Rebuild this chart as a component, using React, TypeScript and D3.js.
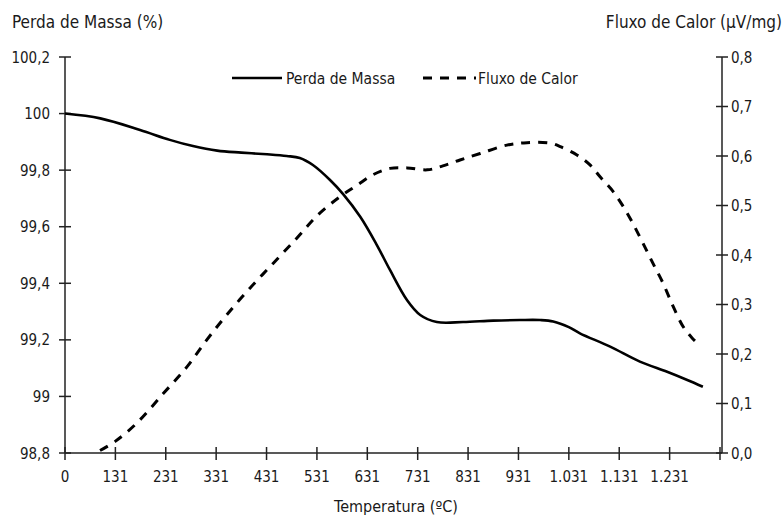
import React from "react";
import * as d3 from "d3";

const xTickPositions = [0, 100, 200, 300, 400, 500, 600, 700, 800, 900, 1000, 1100, 1200, 1300];
const xTickLabels = ["0", "131", "231", "331", "431", "531", "631", "731", "831", "931", "1.031", "1.131", "1.231", ""];
const leftTicks = [98.8, 99, 99.2, 99.4, 99.6, 99.8, 100, 100.2];
const rightTicks = [0, 0.1, 0.2, 0.3, 0.4, 0.5, 0.6, 0.7, 0.8];

const massX = [0, 70, 149, 208, 254, 302, 350, 401, 440, 466, 492, 526, 552, 586, 619, 645, 679, 705, 738, 790, 850, 903, 943, 969, 1000, 1022, 1082, 1141, 1195, 1235, 1266];
const massY = [100.0, 99.983, 99.942, 99.907, 99.885, 99.869, 99.862, 99.856, 99.85, 99.843, 99.818, 99.765, 99.715, 99.635, 99.535, 99.447, 99.34, 99.288, 99.263, 99.263, 99.268, 99.27, 99.27, 99.265, 99.245, 99.223, 99.176, 99.123, 99.087, 99.058, 99.034];

const heatX = [69.5, 99, 142, 195, 242, 281, 321, 367, 413, 460, 502, 546, 580, 611, 645, 679, 719, 750, 784, 824, 877, 917, 963, 983, 1016, 1042, 1062, 1088, 1108, 1127, 1147, 1167, 1187, 1207, 1227, 1245, 1260];
const heatY = [0.005, 0.023, 0.06, 0.12, 0.174, 0.228, 0.279, 0.333, 0.383, 0.434, 0.481, 0.518, 0.541, 0.562, 0.575, 0.576, 0.572, 0.58, 0.592, 0.605, 0.622, 0.627, 0.626, 0.619, 0.602, 0.582, 0.558, 0.528, 0.498, 0.464, 0.424, 0.383, 0.343, 0.296, 0.255, 0.232, 0.218];

const W = 783;
const H = 517;
const FONT = "Tahoma, 'DejaVu Sans Condensed', 'DejaVu Sans', sans-serif";

export default function App() {
  const x = d3.scaleLinear().domain([0, 1300]).range([65, 720]);
  const yL = d3.scaleLinear().domain([98.8, 100.2]).range([453, 57]);
  const yR = d3.scaleLinear().domain([0, 0.8]).range([453, 57]);
  const fmtL = (v: number) => d3.format(".1~f")(v).replace(".", ",");
  const fmtR = (v: number) => d3.format(".1f")(v).replace(".", ",");

  const massLine = d3
    .line<number>()
    .x((_, i) => x(massX[i]))
    .y((d) => yL(d))
    .curve(d3.curveCatmullRom.alpha(0.5));
  const heatLine = d3
    .line<number>()
    .x((_, i) => x(heatX[i]))
    .y((d) => yR(d))
    .curve(d3.curveCatmullRom.alpha(0.5));

  const axisColor = "#222";
  const textColor = "#1a1a1a";

  return (
    <svg
      width={W}
      height={H}
      style={{ position: "absolute", left: 0, top: 0, background: "#fff" }}
      fontFamily={FONT}
    >
      <rect width={W} height={H} fill="#fff" />
      {/* axis titles */}
      <text x={12} y={28} fontSize={17} fill={textColor}>Perda de Massa (%)</text>
      <text x={782} y={28} fontSize={17} fill={textColor} textAnchor="end">Fluxo de Calor (µV/mg)</text>
      <text x={396} y={512} fontSize={16} fill={textColor} textAnchor="middle">Temperatura (ºC)</text>

      {/* left axis */}
      <line x1={x(0)} x2={x(0)} y1={yL(100.2)} y2={yL(98.8)} stroke={axisColor} strokeWidth={1.5} />
      {leftTicks.map((t) => (
        <g key={"l" + t}>
          <line x1={x(0) - 6} x2={x(0) + 6} y1={yL(t)} y2={yL(t)} stroke={axisColor} strokeWidth={1.5} />
          <text x={50} y={yL(t) + 5.5} fontSize={15} fill={textColor} textAnchor="end">{fmtL(t)}</text>
        </g>
      ))}

      {/* right axis */}
      <line x1={722} x2={722} y1={yR(0.8)} y2={yR(0)} stroke={axisColor} strokeWidth={1.5} />
      {rightTicks.map((t) => (
        <g key={"r" + t}>
          <line x1={716} x2={728} y1={yR(t)} y2={yR(t)} stroke={axisColor} strokeWidth={1.5} />
          <text x={731} y={yR(t) + 5.5} fontSize={15} fill={textColor}>{fmtR(t)}</text>
        </g>
      ))}

      {/* bottom axis */}
      <line x1={x(0)} x2={722} y1={yL(98.8)} y2={yL(98.8)} stroke={axisColor} strokeWidth={1.5} />
      {xTickPositions.map((p, i) => (
        <g key={"x" + p}>
          <line x1={x(p)} x2={x(p)} y1={447} y2={460} stroke={axisColor} strokeWidth={1.5} />
          <text x={x(p)} y={482} fontSize={15} fill={textColor} textAnchor="middle">{xTickLabels[i]}</text>
        </g>
      ))}

      {/* series */}
      <path d={heatLine(heatY) || ""} fill="none" stroke="#000" strokeWidth={3} strokeDasharray="9,8" />
      <path d={massLine(massY) || ""} fill="none" stroke="#000" strokeWidth={2.6} />

      {/* legend */}
      <line x1={232} x2={282} y1={78} y2={78} stroke="#000" strokeWidth={2.6} />
      <text x={286} y={83.5} fontSize={15.5} fill={textColor}>Perda de Massa</text>
      <line x1={423} x2={476} y1={78} y2={78} stroke="#000" strokeWidth={3} strokeDasharray="9,8" />
      <text x={478} y={83.5} fontSize={15.5} fill={textColor}>Fluxo de Calor</text>
    </svg>
  );
}
